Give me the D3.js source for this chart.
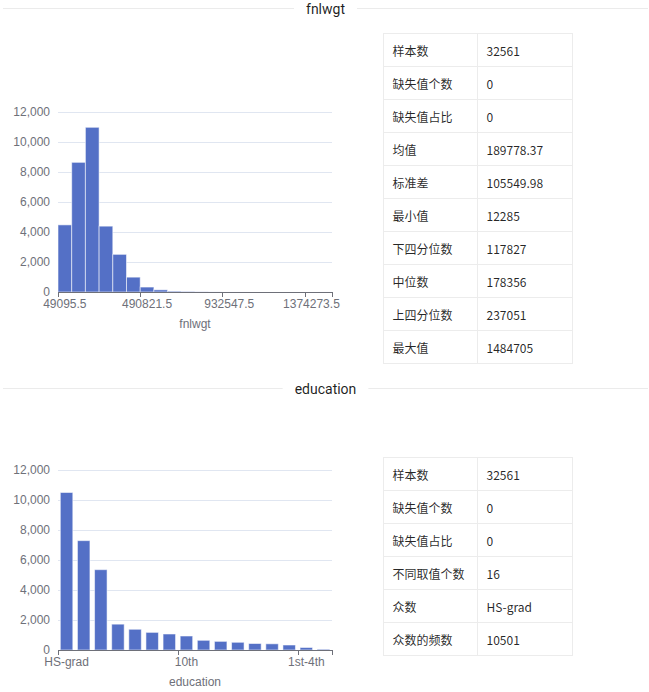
<!DOCTYPE html>
<html>
<head>
<meta charset="utf-8">
<script src="https://cdn.jsdelivr.net/npm/d3@7"></script>
<style>
  html, body { margin: 0; padding: 0; background: #fff; }
  svg { display: block; }
</style>
</head>
<body>
<div id="chart"></div>
<script>
// ---------- DATA ----------
const fnlwgtBins = ["49095.5","122716.5","196337.5","269958.5","343579.5","417200.5","490821.5","564442.5","638063.5","711684.5","785305.5","858926.5","932547.5","1006168.5","1079789.5","1153410.5","1227031.5","1300652.5","1374273.5","1447894.5"];
const fnlwgtCounts = [4475, 8644, 10980, 4390, 2510, 990, 330, 145, 55, 25, 10, 4, 1, 1, 0, 0, 0, 0, 0, 1];

const educationCats = ["HS-grad","Some-college","Bachelors","Masters","Assoc-voc","11th","Assoc-acdm","10th","7th-8th","Prof-school","9th","12th","Doctorate","5th-6th","1st-4th","Preschool"];
const educationCounts = [10501, 7291, 5355, 1723, 1382, 1175, 1067, 933, 646, 576, 514, 433, 413, 333, 168, 51];

const yTickValues = [0, 2000, 4000, 6000, 8000, 10000, 12000];

const fnlwgtStatLabels = ["样本数","缺失值个数","缺失值占比","均值","标准差","最小值","下四分位数","中位数","上四分位数","最大值"];
const fnlwgtStatValues = ["32561","0","0","189778.37","105549.98","12285","117827","178356","237051","1484705"];

const eduStatLabels = ["样本数","缺失值个数","缺失值占比","不同取值个数","众数","众数的频数"];
const eduStatValues = ["32561","0","0","16","HS-grad","10501"];

// ---------- DRAW ----------
const W = 649, H = 692;
const svg = d3.select("#chart").append("svg").attr("width", W).attr("height", H);

const CJK = "'Noto Sans CJK SC', 'Microsoft YaHei', sans-serif";
const TITLEF = "Roboto, 'Noto Sans', sans-serif";
const AXF = "'Liberation Sans', Arial, sans-serif";
const axisColor = "#6e7079";
const gridColor = "#e0e6f1";
const barColor = "#5470c6";

function divider(lineY, title) {
  const g = svg.append("g");
  const cx = 325.5;
  const t = g.append("text")
    .attr("x", cx).attr("y", lineY + 5.5)
    .attr("text-anchor", "middle")
    .attr("font-family", TITLEF).attr("font-size", 14)
    .attr("fill", "rgba(0,0,0,0.88)")
    .text(title);
  const w = t.node().getComputedTextLength();
  const gap = 12;
  g.append("line").attr("x1", 3).attr("x2", cx - w / 2 - gap)
    .attr("y1", lineY + 0.5).attr("y2", lineY + 0.5)
    .attr("stroke", "#ebebeb").attr("stroke-width", 1);
  g.append("line").attr("x1", cx + w / 2 + gap).attr("x2", 648)
    .attr("y1", lineY + 0.5).attr("y2", lineY + 0.5)
    .attr("stroke", "#ebebeb").attr("stroke-width", 1);
}

function barChart(opts) {
  const { yTop, yBot, cats, vals, interval, barFrac, name } = opts;
  const x0 = 58, x1 = 332;
  const g = svg.append("g");
  const x = d3.scaleBand().domain(d3.range(cats.length)).range([x0, x1]).paddingInner(0).paddingOuter(0);
  const y = d3.scaleLinear().domain([0, 12000]).range([yBot, yTop]);

  // grid
  g.append("g").attr("transform", `translate(${x0},0)`)
    .call(d3.axisLeft(y).tickValues(yTickValues).tickSize(-(x1 - x0)).tickFormat(""))
    .call(s => s.select(".domain").remove())
    .call(s => s.selectAll(".tick line").attr("stroke", gridColor));

  // y labels
  g.append("g").attr("transform", `translate(${x0},0)`)
    .call(d3.axisLeft(y).tickValues(yTickValues).tickSize(0).tickPadding(8).tickFormat(d3.format(",")))
    .call(s => s.select(".domain").remove())
    .call(s => s.selectAll(".tick text")
      .attr("fill", axisColor).attr("font-size", 12).attr("font-family", AXF));

  // bars
  const bw = x.bandwidth();
  const w = bw * barFrac;
  g.append("g").selectAll("rect").data(vals).join("rect")
    .attr("x", (d, i) => x(i) + (bw - w) / 2)
    .attr("width", w)
    .attr("y", d => y(d))
    .attr("height", d => yBot - y(d))
    .attr("fill", barColor)
    .attr("stroke", "rgba(255,255,255,0.55)")
    .attr("stroke-width", 1);

  // x axis line
  g.append("line").attr("x1", x0).attr("x2", x1)
    .attr("y1", yBot + 0.5).attr("y2", yBot + 0.5)
    .attr("stroke", axisColor).attr("stroke-width", 1);

  const labelIdx = d3.range(0, cats.length, interval);
  const tickIdx = labelIdx.concat([cats.length]);
  g.append("g").selectAll("line").data(tickIdx).join("line")
    .attr("x1", i => Math.round(i < cats.length ? x(i) : x1) + 0.5)
    .attr("x2", i => Math.round(i < cats.length ? x(i) : x1) + 0.5)
    .attr("y1", yBot).attr("y2", yBot + 5)
    .attr("stroke", axisColor).attr("stroke-width", 1);

  g.append("g").selectAll("text").data(labelIdx).join("text")
    .attr("x", i => x(i) + bw / 2)
    .attr("y", yBot + 16)
    .attr("text-anchor", "middle")
    .attr("font-family", AXF).attr("font-size", 12)
    .attr("fill", axisColor)
    .text(i => cats[i]);

  g.append("text")
    .attr("x", (x0 + x1) / 2).attr("y", yBot + 35.5)
    .attr("text-anchor", "middle")
    .attr("font-family", AXF).attr("font-size", 12)
    .attr("fill", axisColor)
    .text(name);
}

function statTable(top, labels, values) {
  const left = 383.5, mid = 477.5, right = 572.5, rowH = 33;
  const g = svg.append("g");
  const n = labels.length;
  const rows = d3.range(n);
  g.append("rect").attr("x", left).attr("y", top + 0.5)
    .attr("width", right - left).attr("height", n * rowH)
    .attr("fill", "#fff").attr("stroke", "#ececec");
  g.selectAll("line.h").data(d3.range(1, n)).join("line")
    .attr("x1", left).attr("x2", right)
    .attr("y1", i => top + 0.5 + i * rowH).attr("y2", i => top + 0.5 + i * rowH)
    .attr("stroke", "#ececec");
  g.append("line").attr("x1", mid).attr("x2", mid)
    .attr("y1", top + 0.5).attr("y2", top + 0.5 + n * rowH)
    .attr("stroke", "#ececec");
  g.selectAll("text.l").data(rows).join("text")
    .attr("x", left + 9).attr("y", i => top + i * rowH + rowH / 2 + 1)
    .attr("dominant-baseline", "central")
    .attr("font-family", CJK).attr("font-size", 12)
    .attr("fill", "rgba(0,0,0,0.85)")
    .text(i => labels[i]);
  g.selectAll("text.v").data(rows).join("text")
    .attr("x", mid + 9).attr("y", i => top + i * rowH + rowH / 2 + 1)
    .attr("dominant-baseline", "central")
    .attr("font-family", CJK).attr("font-size", 12)
    .attr("fill", "rgba(0,0,0,0.85)")
    .text(i => values[i]);
}

divider(8, "fnlwgt");
barChart({ yTop: 112, yBot: 292, cats: fnlwgtBins, vals: fnlwgtCounts, interval: 6, barFrac: 1, name: "fnlwgt" });
statTable(33, fnlwgtStatLabels, fnlwgtStatValues);

divider(388, "education");
barChart({ yTop: 470, yBot: 650, cats: educationCats, vals: educationCounts, interval: 7, barFrac: 0.73, name: "education" });
statTable(457, eduStatLabels, eduStatValues);
</script>
</body>
</html>
